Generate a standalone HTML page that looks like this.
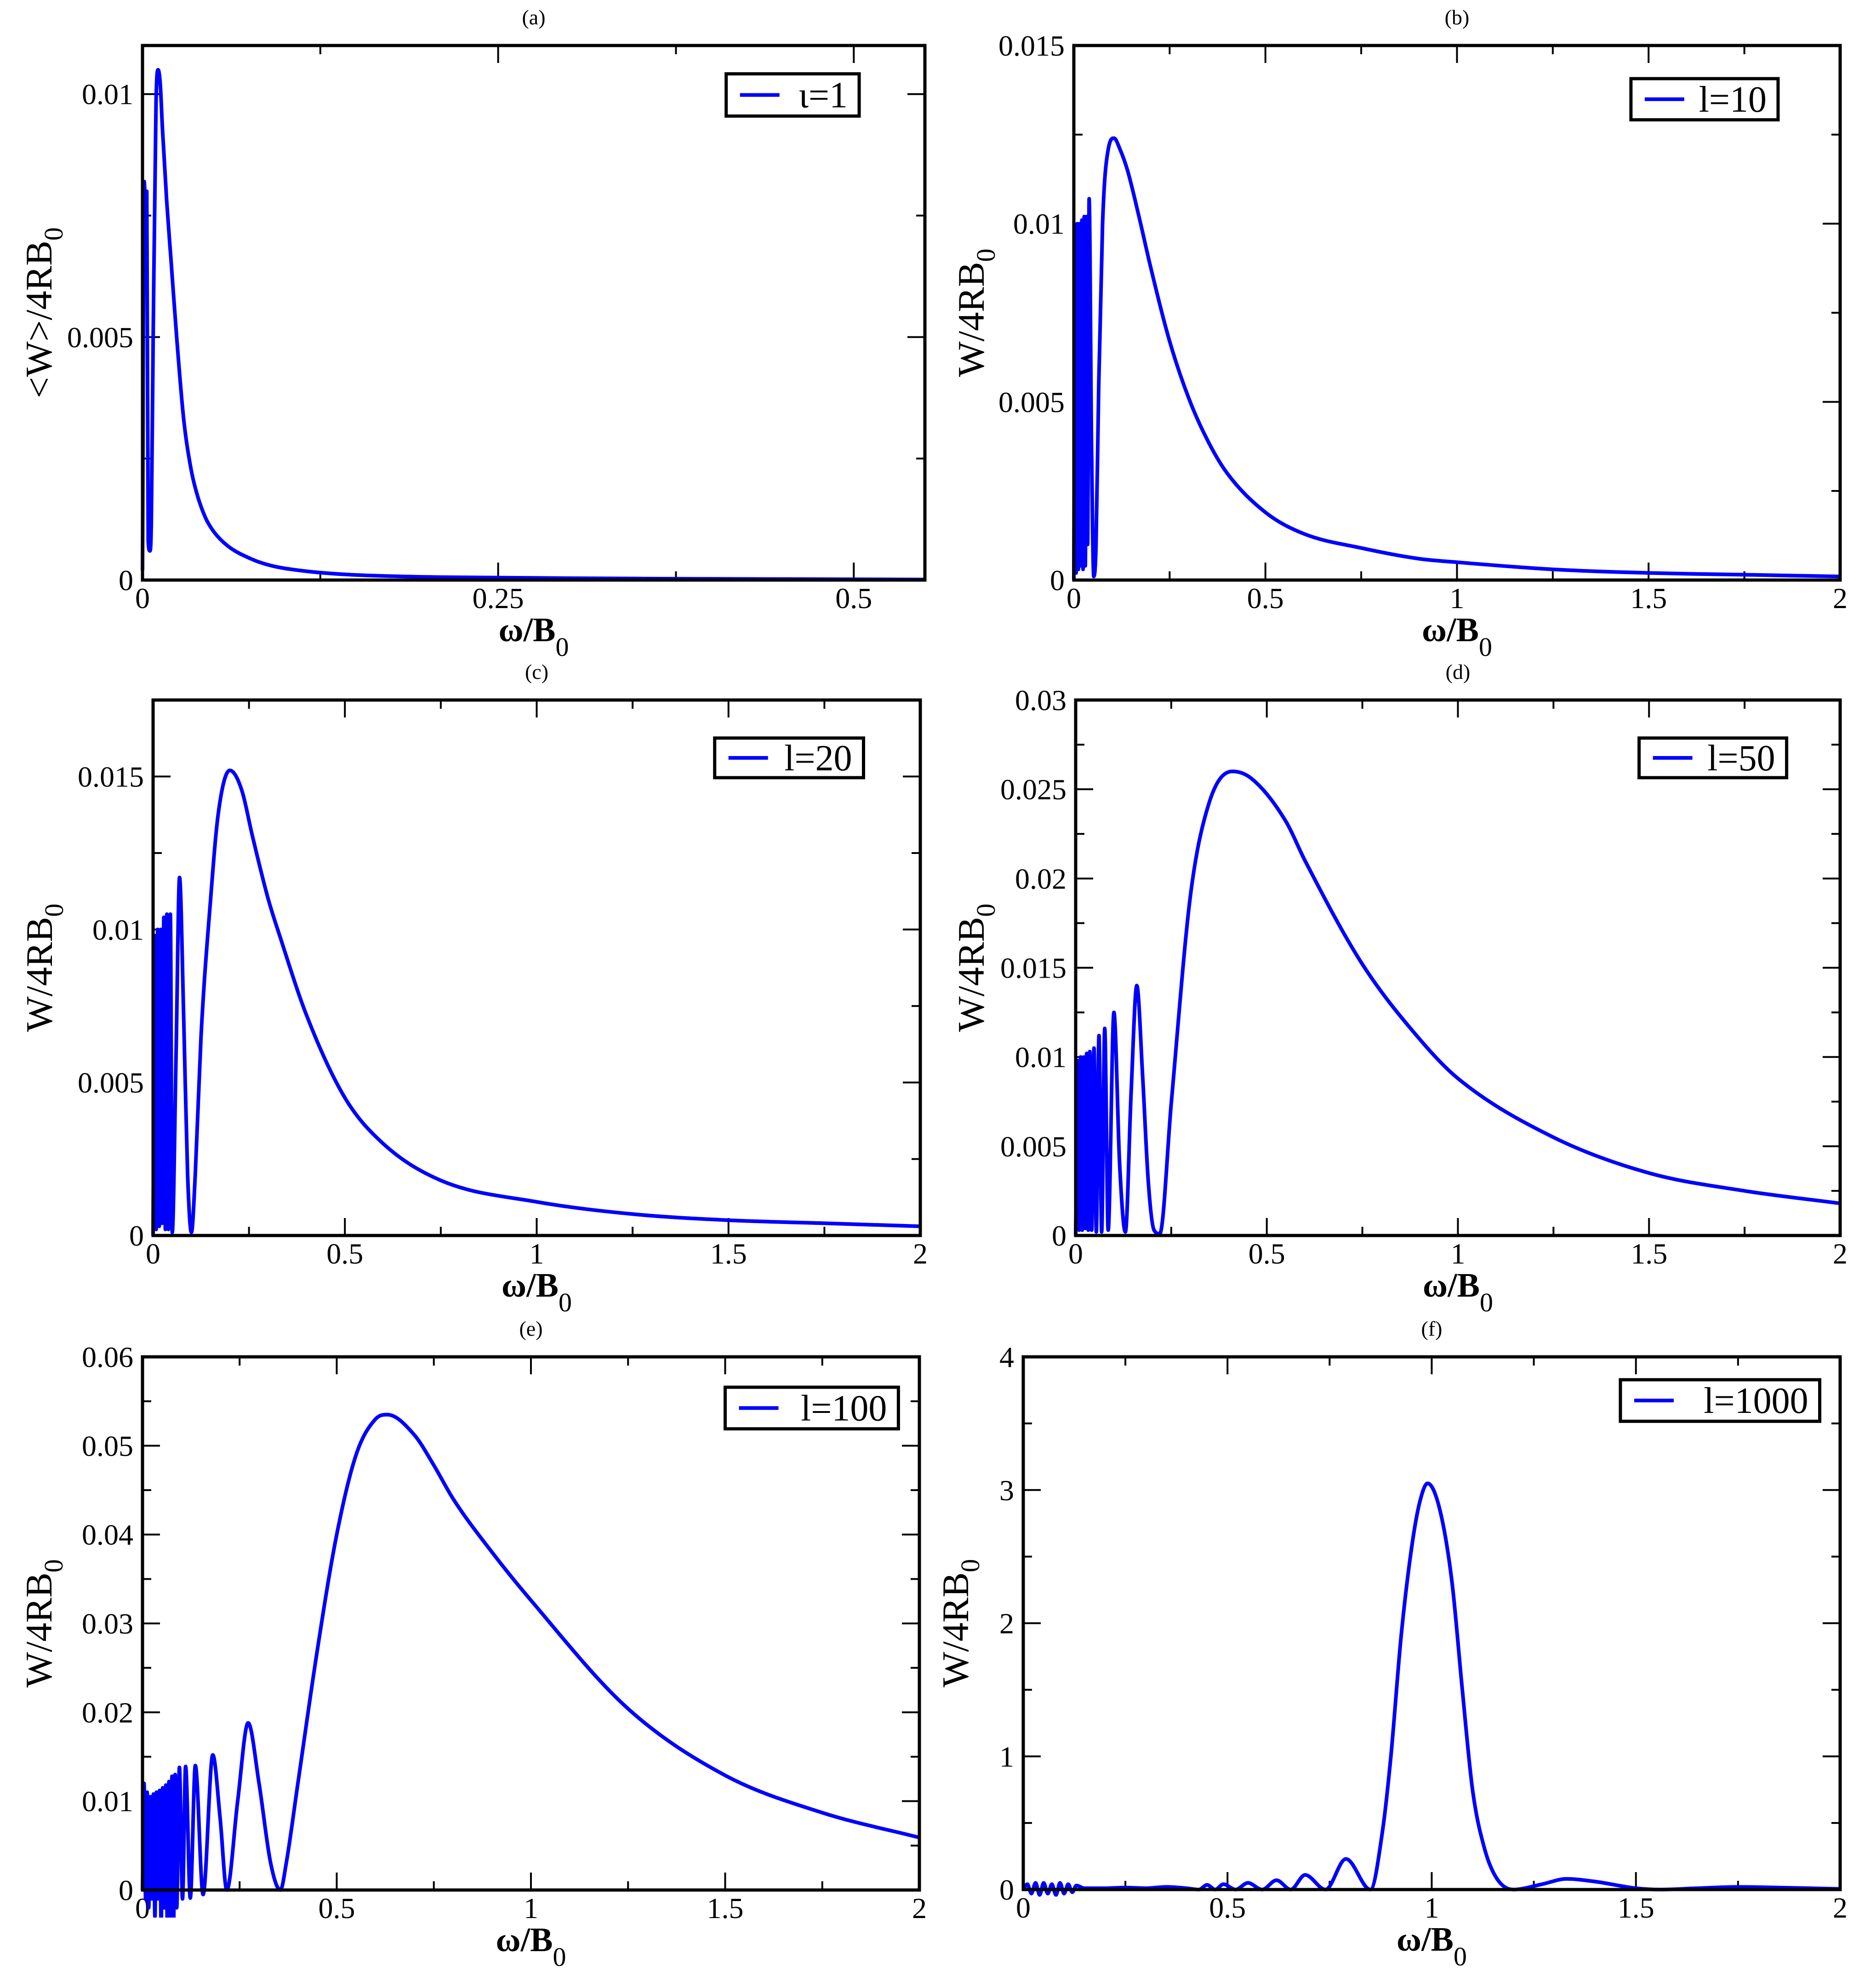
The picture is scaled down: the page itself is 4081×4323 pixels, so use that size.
<!DOCTYPE html>
<html><head><meta charset="utf-8"><style>
html,body{margin:0;padding:0;background:#fff;}
svg{display:block;}
text{font-family:"Liberation Serif","DejaVu Serif",serif;fill:#000;}
</style></head><body>
<svg id="fig" xmlns="http://www.w3.org/2000/svg" width="4081" height="4323" viewBox="0 0 4081 4323"></svg>
<script>
// ---------- data ----------
const panelAX=[0,0.0012,0.0022,0.0030,0.0040,0.0052,0.0062,0.0075,0.0095,0.0110,0.0125,0.0140,0.0170,0.0200,0.0240,0.0290,0.0340,0.0380,0.0440,0.0500,0.0600,0.0760,0.0900,0.1100,0.1400,0.1900,0.2500,0.3500,0.4500,0.5500];
const panelAY=[0.0002,0.0082,0.0076,0.0080,0.0008,0.0006,0.0012,0.0050,0.0098,0.0105,0.0102,0.0093,0.0078,0.0066,0.0050,0.0033,0.0023,0.0018,0.0013,0.0010,0.0007,0.00044,0.0003,0.0002,0.00012,0.00007,0.00005,0.00003,0.00002,0.00001];

const panelBX=[0,0.003,0.006,0.009,0.012,0.015,0.018,0.021,0.024,0.027,0.030,0.033,0.036,0.040,0.046,0.052,0.058,0.065,0.075,0.09,0.105,0.12,0.14,0.17,0.2,0.25,0.3,0.35,0.4,0.5,0.6,0.75,0.9,1,1.25,1.5,1.75,2];
const panelBY=[0,0.0098,0.0002,0.0100,0.0003,0.0100,0.0004,0.0101,0.0003,0.0102,0.0004,0.0102,0.0010,0.0107,0.0040,0.0001,0.0010,0.0055,0.0100,0.0121,0.0124,0.0121,0.0115,0.0102,0.0088,0.0067,0.0051,0.0039,0.0030,0.0019,0.0013,0.0009,0.0006,0.0005,0.0003,0.0002,0.00015,0.0001];

const panelCX=[0,0.004,0.008,0.012,0.016,0.02,0.024,0.028,0.032,0.036,0.04,0.045,0.05,0.06,0.069,0.08,0.09,0.1,0.11,0.125,0.15,0.17,0.2,0.23,0.26,0.3,0.33,0.4,0.5,0.6,0.75,1,1.25,1.5,1.75,2];
const panelCY=[0,0.0098,0.0002,0.0100,0.0003,0.0100,0.0004,0.0104,0.0002,0.0105,0.0002,0.0105,0.0001,0.0060,0.0117,0.0070,0.0020,0.0001,0.0020,0.0065,0.0110,0.0138,0.0152,0.0146,0.0130,0.0110,0.0098,0.0072,0.0045,0.0030,0.0018,0.0011,0.0007,0.0005,0.0004,0.0003];

const panelDX=[0,0.005,0.009,0.013,0.017,0.021,0.025,0.029,0.033,0.037,0.042,0.048,0.054,0.061,0.068,0.076,0.085,0.1,0.115,0.13,0.145,0.16,0.175,0.19,0.205,0.22,0.25,0.3,0.35,0.41,0.46,0.55,0.6,0.75,0.9,1,1.25,1.5,1.75,2];
const panelDY=[0,0.0098,0.0003,0.0100,0.0003,0.0100,0.0004,0.0102,0.0003,0.0103,0.0003,0.0105,0.0002,0.0112,0.0002,0.0116,0.0003,0.0125,0.0040,0.0002,0.0080,0.0140,0.0090,0.0030,0.0003,0.0001,0.0074,0.0190,0.0243,0.0260,0.0256,0.0232,0.0210,0.0152,0.0110,0.0088,0.0055,0.0035,0.0025,0.0018];

const panelEX=[0,0.004,0.008,0.012,0.016,0.020,0.024,0.028,0.032,0.036,0.040,0.044,0.048,0.052,0.056,0.060,0.064,0.068,0.072,0.076,0.080,0.084,0.088,0.095,0.103,0.111,0.123,0.136,0.156,0.181,0.2,0.217,0.245,0.272,0.3,0.33,0.355,0.37,0.4,0.45,0.5,0.55,0.6,0.63,0.7,0.75,0.8,0.9,1,1.25,1.5,1.75,2];
const panelEY=[0,0.0120,-0.0010,0.0110,-0.0020,0.0105,-0.0010,0.0108,-0.0030,0.0110,-0.0010,0.0112,-0.0040,0.0115,-0.0020,0.0118,-0.0045,0.0122,-0.0030,0.0128,-0.0040,0.0130,-0.0020,0.0138,-0.0010,0.0139,-0.0009,0.0140,-0.0005,0.0152,0.0080,0.0000,0.0100,0.0188,0.0120,0.0030,0.0000,0.0030,0.0120,0.0270,0.0400,0.0490,0.0530,0.0535,0.0512,0.0478,0.0440,0.0380,0.0326,0.0204,0.0129,0.0087,0.0059];

const panelFX=[0,0.01,0.02,0.03,0.04,0.05,0.06,0.07,0.08,0.09,0.10,0.11,0.12,0.13,0.15,0.2,0.25,0.3,0.35,0.4,0.43,0.45,0.47,0.49,0.52,0.55,0.585,0.62,0.655,0.69,0.74,0.79,0.85,0.88,0.9,0.925,0.95,0.97,0.99,1.02,1.05,1.075,1.1,1.13,1.16,1.2,1.27,1.33,1.4,1.5,1.56,1.65,1.75,1.85,2];
const panelFY=[0,0.04,-0.03,0.05,-0.04,0.05,-0.03,0.04,-0.04,0.05,-0.03,0.04,-0.02,0.03,0.01,0.01,0.015,0.01,0.02,0.01,0.0,0.035,0.0,0.04,0.0,0.05,0.0,0.07,0.0,0.11,0.0,0.23,0.0,0.45,1.0,1.9,2.55,2.9,3.05,2.85,2.3,1.5,0.75,0.3,0.08,0.0,0.04,0.08,0.06,0.01,0.0,0.01,0.02,0.015,0.005];

// tick labels
const yLabelsA=["0","0.005","0.01"];
const yLabelsB=["0","0.005","0.01","0.015"];
const yLabelsC=["0","0.005","0.01","0.015"];
const yLabelsD=["0","0.005","0.01","0.015","0.02","0.025","0.03"];
const yLabelsE=["0","0.01","0.02","0.03","0.04","0.05","0.06"];
const yLabelsF=["0","1","2","3","4"];
const xLabelsA=["0","0.25","0.5"];
const xLabels2=["0","0.5","1","1.5","2"];

const NS="http://www.w3.org/2000/svg";
const svg=document.getElementById('fig');
function mk(tag,attrs,parent){const e=document.createElementNS(NS,tag);for(const k in attrs)e.setAttribute(k,attrs[k]);(parent||svg).appendChild(e);return e;}

function monoPath(P){
  const n=P.length;
  if(n<2)return '';
  const dx=[],m=[],t=new Array(n);
  for(let i=0;i<n-1;i++){dx[i]=P[i+1][0]-P[i][0];m[i]=(P[i+1][1]-P[i][1])/(dx[i]||1e-6);}
  t[0]=m[0];t[n-1]=m[n-2];
  for(let i=1;i<n-1;i++){t[i]=(m[i-1]*m[i]<=0)?0:(m[i-1]+m[i])/2;}
  for(let i=0;i<n-1;i++){
    if(m[i]===0){t[i]=0;t[i+1]=0;continue;}
    const a=t[i]/m[i],b=t[i+1]/m[i],s=a*a+b*b;
    if(s>9){const k=3/Math.sqrt(s);t[i]=k*a*m[i];t[i+1]=k*b*m[i];}
  }
  let d='M'+P[0][0].toFixed(1)+','+P[0][1].toFixed(1);
  for(let i=0;i<n-1;i++){
    const h=dx[i]/3;
    d+='C'+(P[i][0]+h).toFixed(1)+','+(P[i][1]+t[i]*h).toFixed(1)+' '+(P[i+1][0]-h).toFixed(1)+','+(P[i+1][1]-t[i+1]*h).toFixed(1)+' '+P[i+1][0].toFixed(1)+','+P[i+1][1].toFixed(1);
  }
  return d;
}

function panel(p){
  const g=mk('g',{});
  
  
  const sx=v=>p.L+(v-p.x0)/(p.x1-p.x0)*(p.R-p.L);
  const sy=v=>p.B-(v-p.y0)/(p.y1-p.y0)*(p.B-p.T);
  const eps=1e-9;
  for(let v=p.x0;v<=p.x1+eps;v+=p.xMinor){
    const major=Math.abs(v/p.xMajor-Math.round(v/p.xMajor))<1e-6;
    const len=major?38:19, X=sx(v);
    const t1=mk('path',{d:`M${X},${p.B}v${-len}M${X},${p.T}v${len}`,stroke:'#000','stroke-width':4,fill:'none'},g);
    
    
  }
  for(let v=p.y0;v<=p.y1+eps;v+=p.yMinor){
    const major=Math.abs(v/p.yMajor-Math.round(v/p.yMajor))<1e-6;
    const len=major?38:19, Y=sy(v);
    const t2=mk('path',{d:`M${p.L},${Y}h${len}M${p.R},${Y}h${-len}`,stroke:'#000','stroke-width':4,fill:'none'},g);
    
    
  }
  p.xLabels.forEach((s,i)=>{
    const t=mk('text',{x:sx(i*p.xMajor),y:p.B+61,'font-size':64,'text-anchor':'middle'},g);
    t.textContent=s;
    
    
  });
  p.yLabels.forEach((s,i)=>{
    const t=mk('text',{x:p.L-20,y:sy(i*p.yMajor)+22,'font-size':64,'text-anchor':'end'},g);
    t.textContent=s;
    
    
  });
  const clip=mk('clipPath',{id:'clip'+p.id},g);
  mk('rect',{x:p.L-10,y:p.T,width:p.R-p.L+10,height:p.B-p.T+60},clip);
  const pts=p.xs.map((x,i)=>[sx(x),sy(p.ys[i])]);
  const c=mk('path',{d:monoPath(pts),stroke:'#0000ff','stroke-width':8,fill:'none','stroke-linejoin':'round','clip-path':`url(#clip${p.id})`},g);
  
  
  const f=mk('rect',{x:p.L,y:p.T,width:p.R-p.L,height:p.B-p.T,fill:'none',stroke:'#000','stroke-width':7},g);
  
  
  const W=p.R-p.L,H=p.B-p.T;
  const lx0=p.L+p.lg[0]*W, lx1=p.L+p.lg[1]*W, ly0=p.T+p.lg[2]*H, ly1=p.T+p.lg[3]*H;
  const lg=mk('g',{},g);
  
  
  mk('rect',{x:lx0,y:ly0,width:lx1-lx0,height:ly1-ly0,fill:'#fff',stroke:'#000','stroke-width':7},lg);
  const lm=(ly0+ly1)/2;
  const ll=mk('path',{d:`M${lx0+30},${lm}h86`,stroke:'#0000ff','stroke-width':8},lg);
  
  
  const lt=mk('text',{x:lx1-25,y:lm+27,'font-size':80,'text-anchor':'end'},lg);
  lt.textContent=p.legend;
  
  
  const cx=(p.L+p.R)/2;
  const pl=mk('text',{x:cx,y:p.T-46,'font-size':46,'text-anchor':'middle'},g);
  pl.textContent=p.label;
  
  
  const xt=mk('text',{x:cx,y:p.B+133,'text-anchor':'middle'},g);
  
  
  const a=mk('tspan',{'font-size':74,'font-weight':'bold'},xt);a.textContent='ω/B';
  const b=mk('tspan',{'font-size':58,dy:32},xt);b.textContent='0';
  const yx=p.L-p.yGap, yy=(p.T+p.B)/2;
  const yt=mk('text',{x:0,y:0,'text-anchor':'middle',transform:`translate(${yx+30},${yy}) rotate(-90)`},g);
  
  
  const c1=mk('tspan',{'font-size':82},yt);c1.textContent=p.yTitle;
  const c2=mk('tspan',{'font-size':58,dy:24},yt);c2.textContent='0';
}

panel({id:'a',label:'(a)',L:310,R:2012,T:99,B:1262,x0:0,x1:0.55,xMajor:0.25,xMinor:0.125,y0:0,y1:0.011,yMajor:0.005,yMinor:0.0025,
  xLabels:xLabelsA,yLabels:yLabelsA,xs:panelAX,ys:panelAY,legend:'ι=1',lg:[0.746,0.916,0.053,0.132],yTitle:'<W>/4RB',yGap:228});
panel({id:'b',label:'(b)',L:2336,R:4003,T:99,B:1262,x0:0,x1:2,xMajor:0.5,xMinor:0.25,y0:0,y1:0.015,yMajor:0.005,yMinor:0.0025,
  xLabels:xLabels2,yLabels:yLabelsB,xs:panelBX,ys:panelBY,legend:'l=10',lg:[0.727,0.919,0.062,0.139],yTitle:'W/4RB',yGap:226});
panel({id:'c',label:'(c)',L:333,R:2002,T:1523,B:2688,x0:0,x1:2,xMajor:0.5,xMinor:0.25,y0:0,y1:0.0175,yMajor:0.005,yMinor:0.0025,
  xLabels:xLabels2,yLabels:yLabelsC,xs:panelCX,ys:panelCY,legend:'l=20',lg:[0.732,0.926,0.071,0.145],yTitle:'W/4RB',yGap:250});
panel({id:'d',label:'(d)',L:2340,R:4003,T:1523,B:2688,x0:0,x1:2,xMajor:0.5,xMinor:0.25,y0:0,y1:0.03,yMajor:0.005,yMinor:0.0025,
  xLabels:xLabels2,yLabels:yLabelsD,xs:panelDX,ys:panelDY,legend:'l=50',lg:[0.737,0.930,0.071,0.145],yTitle:'W/4RB',yGap:230});
panel({id:'e',label:'(e)',L:310,R:2000,T:2952,B:4112,x0:0,x1:2,xMajor:0.5,xMinor:0.25,y0:0,y1:0.06,yMajor:0.01,yMinor:0.005,
  xLabels:xLabels2,yLabels:yLabelsE,xs:panelEX,ys:panelEY,legend:'l=100',lg:[0.75,0.973,0.057,0.135],yTitle:'W/4RB',yGap:228});
panel({id:'f',label:'(f)',L:2226,R:4003,T:2952,B:4111,x0:0,x1:2,xMajor:0.5,xMinor:0.25,y0:0,y1:4,yMajor:1,yMinor:0.5,
  xLabels:xLabels2,yLabels:yLabelsF,xs:panelFX,ys:panelFY,legend:'l=1000',lg:[0.731,0.975,0.043,0.121],yTitle:'W/4RB',yGap:150});
</script>
</body></html>
